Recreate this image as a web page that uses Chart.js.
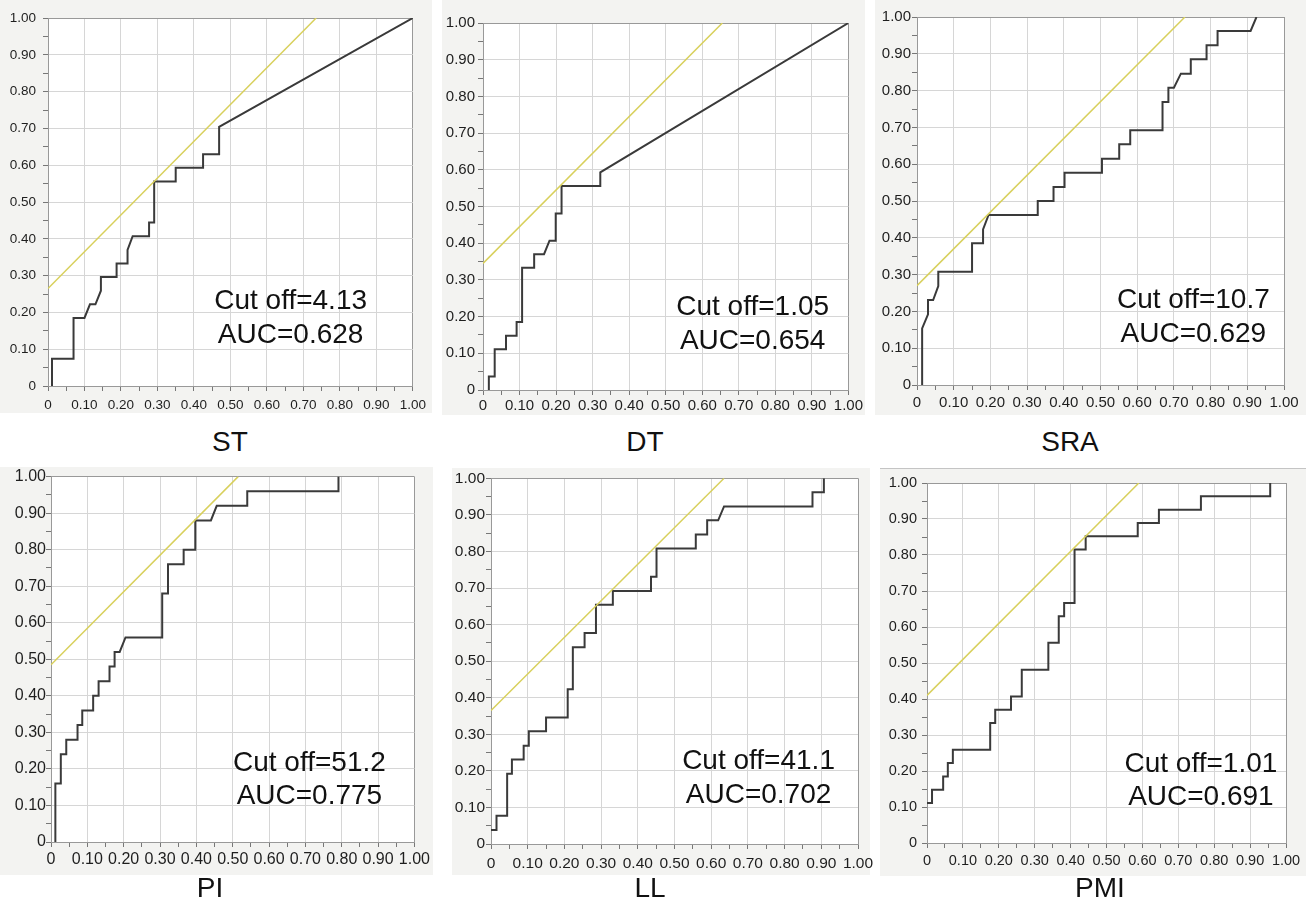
<!DOCTYPE html>
<html>
<head>
<meta charset="utf-8">
<script src="https://cdn.jsdelivr.net/npm/chart.js@4.4.1/dist/chart.umd.min.js"></script>
<style>
  html, body { margin: 0; padding: 0; background: #fff; }
  body { width: 1306px; height: 908px; position: relative; overflow: hidden;
         font-family: "Liberation Sans", Arial, sans-serif; }
  .bg { position: absolute; background: #f3f3f1; }
  .box { position: absolute; }
  .name { position: absolute; font-size: 28px; color: #111; transform: translate(-50%, -50%); white-space: nowrap; }
</style>
</head>
<body>
<script>
// ---- data ----
const tickLabels = ["0", "0.10", "0.20", "0.30", "0.40", "0.50", "0.60", "0.70", "0.80", "0.90", "1.00"];

const panelNames = ["ST", "DT", "SRA", "PI", "LL", "PMI"];
const cutOffs = ["4.13", "1.05", "10.7", "51.2", "41.1", "1.01"];
const aucs = ["0.628", "0.654", "0.629", "0.775", "0.702", "0.691"];

const stFpr = [0.011, 0.011, 0.07, 0.07, 0.10, 0.115, 0.13, 0.145, 0.145, 0.188, 0.188, 0.218, 0.218, 0.232, 0.277, 0.277, 0.291, 0.291, 0.35, 0.35, 0.425, 0.425, 0.469, 0.469, 1.0];
const stTpr = [0, 0.074, 0.074, 0.185, 0.185, 0.222, 0.222, 0.259, 0.296, 0.296, 0.333, 0.333, 0.37, 0.407, 0.407, 0.444, 0.444, 0.556, 0.556, 0.593, 0.593, 0.63, 0.63, 0.704, 1.0];
const stIsoX = [0, 0.735];
const stIsoY = [0.265, 1];

const dtFpr = [0.016, 0.016, 0.032, 0.032, 0.063, 0.063, 0.092, 0.092, 0.107, 0.107, 0.14, 0.14, 0.167, 0.182, 0.199, 0.199, 0.215, 0.215, 0.321, 0.321, 1.0];
const dtTpr = [0, 0.037, 0.037, 0.111, 0.111, 0.148, 0.148, 0.185, 0.185, 0.333, 0.333, 0.37, 0.37, 0.407, 0.407, 0.481, 0.481, 0.556, 0.556, 0.593, 1.0];
const dtIsoX = [0, 0.655];
const dtIsoY = [0.345, 1];

const sraFpr = [0.014, 0.014, 0.03, 0.03, 0.044, 0.058, 0.058, 0.15, 0.15, 0.18, 0.18, 0.195, 0.329, 0.329, 0.372, 0.372, 0.402, 0.402, 0.504, 0.504, 0.551, 0.551, 0.581, 0.581, 0.669, 0.669, 0.685, 0.685, 0.70, 0.719, 0.746, 0.746, 0.789, 0.789, 0.819, 0.819, 0.909, 0.925];
const sraTpr = [0, 0.154, 0.192, 0.231, 0.231, 0.269, 0.308, 0.308, 0.385, 0.385, 0.423, 0.462, 0.462, 0.5, 0.5, 0.538, 0.538, 0.577, 0.577, 0.615, 0.615, 0.654, 0.654, 0.692, 0.692, 0.769, 0.769, 0.808, 0.808, 0.846, 0.846, 0.885, 0.885, 0.923, 0.923, 0.962, 0.962, 1.0];
const sraIsoX = [0, 0.73];
const sraIsoY = [0.27, 1];

const piFpr = [0.012, 0.012, 0.027, 0.027, 0.042, 0.042, 0.073, 0.073, 0.086, 0.086, 0.116, 0.116, 0.131, 0.131, 0.161, 0.161, 0.175, 0.175, 0.189, 0.205, 0.306, 0.306, 0.322, 0.322, 0.365, 0.365, 0.397, 0.397, 0.44, 0.456, 0.54, 0.54, 0.791, 0.791];
const piTpr = [0, 0.16, 0.16, 0.24, 0.24, 0.28, 0.28, 0.32, 0.32, 0.36, 0.36, 0.40, 0.40, 0.44, 0.44, 0.48, 0.48, 0.52, 0.52, 0.56, 0.56, 0.68, 0.68, 0.76, 0.76, 0.80, 0.80, 0.88, 0.88, 0.92, 0.92, 0.96, 0.96, 1.0];
const piIsoX = [0, 0.515];
const piIsoY = [0.485, 1];

const llFpr = [0, 0.015, 0.015, 0.044, 0.044, 0.057, 0.057, 0.089, 0.089, 0.103, 0.103, 0.15, 0.15, 0.209, 0.209, 0.223, 0.223, 0.255, 0.255, 0.286, 0.286, 0.332, 0.332, 0.436, 0.436, 0.451, 0.451, 0.558, 0.558, 0.589, 0.589, 0.619, 0.635, 0.876, 0.876, 0.907, 0.907];
const llTpr = [0.038, 0.038, 0.077, 0.077, 0.192, 0.192, 0.231, 0.231, 0.269, 0.269, 0.308, 0.308, 0.346, 0.346, 0.423, 0.423, 0.538, 0.538, 0.577, 0.577, 0.654, 0.654, 0.692, 0.692, 0.731, 0.731, 0.808, 0.808, 0.846, 0.846, 0.885, 0.885, 0.923, 0.923, 0.962, 0.962, 1.0];
const llIsoX = [0, 0.635];
const llIsoY = [0.365, 1];

const pmiFpr = [0, 0.014, 0.014, 0.045, 0.045, 0.058, 0.058, 0.072, 0.072, 0.176, 0.176, 0.19, 0.19, 0.234, 0.234, 0.264, 0.264, 0.338, 0.338, 0.367, 0.367, 0.382, 0.382, 0.411, 0.411, 0.442, 0.442, 0.587, 0.587, 0.646, 0.646, 0.763, 0.763, 0.956, 0.956];
const pmiTpr = [0.111, 0.111, 0.148, 0.148, 0.185, 0.185, 0.222, 0.222, 0.259, 0.259, 0.333, 0.333, 0.37, 0.37, 0.407, 0.407, 0.481, 0.481, 0.556, 0.556, 0.63, 0.63, 0.667, 0.667, 0.815, 0.815, 0.852, 0.852, 0.889, 0.889, 0.926, 0.926, 0.963, 0.963, 1.0];
const pmiIsoX = [0, 0.59];
const pmiIsoY = [0.41, 1];

const curves = [
  [stFpr, stTpr, stIsoX, stIsoY],
  [dtFpr, dtTpr, dtIsoX, dtIsoY],
  [sraFpr, sraTpr, sraIsoX, sraIsoY],
  [piFpr, piTpr, piIsoX, piIsoY],
  [llFpr, llTpr, llIsoX, llIsoY],
  [pmiFpr, pmiTpr, pmiIsoX, pmiIsoY],
];

// ---- layout (page pixels) ----
// bg: grey panel; c: canvas box; yw: y axis width; xh: x axis height; pt/pr: padding
// fs: tick font size; yp/xp: tick label padding
// tx, ty1, ty2: annotation position in axis units; nx, ny: panel name centre
const layout = [
  { bg: [0, 0, 432, 413],   c: [0, 0, 432, 413],   yw: 48, xh: 27, pt: 18, pr: 17, fs: 13.5, yp: 7, xp: 6, tx: 0.665, ty1: 0.21,  ty2: 0.117, nx: 230,  ny: 442 },
  { bg: [442, 0, 423, 415], c: [442, 0, 423, 415], yw: 41, xh: 25, pt: 23, pr: 13, fs: 15,   yp: 3, xp: 2, tx: 0.738, ty1: 0.205, ty2: 0.111, nx: 645,  ny: 442 },
  { bg: [875, 0, 431, 415], c: [875, 0, 431, 415], yw: 42, xh: 30, pt: 17, pr: 22, fs: 15,   yp: 1, xp: 4, tx: 0.753, ty1: 0.209, ty2: 0.116, nx: 1070, ny: 442 },
  { bg: [0, 467, 433, 408], c: [0, 467, 433, 408], yw: 51, xh: 33, pt: 8,  pr: 15, fs: 16,   yp: 0, xp: 3, tx: 0.711, ty1: 0.194, ty2: 0.105, nx: 210,  ny: 888 },
  { bg: [452, 468, 418, 407], c: [452, 468, 430, 407], yw: 39, xh: 31, pt: 9, pr: 24, fs: 15.5, yp: 1, xp: 5, tx: 0.729, ty1: 0.204, ty2: 0.113, nx: 650, ny: 888 },
  { bg: [880, 468, 426, 407], c: [880, 468, 426, 407], yw: 47, xh: 32, pt: 15, pr: 20, fs: 14.5, yp: 5, xp: 4, tx: 0.763, ty1: 0.198, ty2: 0.105, nx: 1100, ny: 888 },
];

const FONT = '"Liberation Sans", Arial, sans-serif';

const decoPlugin = {
  id: "deco",
  beforeDraw(chart) {
    const a = chart.chartArea, ctx = chart.ctx;
    ctx.save();
    ctx.fillStyle = "#ffffff";
    ctx.fillRect(a.left, a.top, a.right - a.left, a.bottom - a.top);
    ctx.restore();
  },
  afterDatasetsDraw(chart, args, opts) {
    const ctx = chart.ctx, xs = chart.scales.x, ys = chart.scales.y;
    ctx.save();
    ctx.fillStyle = "#111";
    ctx.font = "28px " + FONT;
    ctx.textAlign = "center";
    ctx.textBaseline = "alphabetic";
    const px = xs.getPixelForValue(opts.tx);
    ctx.fillText("Cut off=" + opts.cut, px, ys.getPixelForValue(opts.ty1));
    ctx.fillText("AUC=" + opts.auc, px, ys.getPixelForValue(opts.ty2));
    ctx.restore();
  }
};

function isMajor(v) { return Math.round(v * 100) % 10 === 0; }

function axis(fit, fs, pad) {
  return {
    type: "linear", min: 0, max: 1,
    afterFit: fit,
    border: { color: "#999", width: 1 },
    grid: {
      color: c => {
        const k = Math.round(c.tick.value * 100);
        if (k % 10) return "rgba(0,0,0,0)";
        return (k === 0 || k === 100) ? "#999" : "#d6d6d6";
      },
      tickColor: "#777",
      tickLength: 5,
      lineWidth: 1
    },
    ticks: {
      stepSize: 0.05, autoSkip: false, maxRotation: 0, minRotation: 0, padding: pad,
      color: "#1e1e1e", font: { family: FONT, size: fs },
      callback: v => isMajor(v) ? tickLabels[Math.round(v * 10)] : ""
    }
  };
}

layout.forEach((L, i) => {
  const bg = document.createElement("div");
  bg.className = "bg";
  bg.style.left = L.bg[0] + "px"; bg.style.top = L.bg[1] + "px";
  bg.style.width = L.bg[2] + "px"; bg.style.height = L.bg[3] + "px";
  if (i === 5) bg.style.borderTop = "1px solid #c4c4c4";
  document.body.appendChild(bg);

  const box = document.createElement("div");
  box.className = "box";
  box.style.left = L.c[0] + "px"; box.style.top = L.c[1] + "px";
  box.style.width = L.c[2] + "px"; box.style.height = L.c[3] + "px";
  const canvas = document.createElement("canvas");
  canvas.width = L.c[2]; canvas.height = L.c[3];
  box.appendChild(canvas);
  document.body.appendChild(box);

  const name = document.createElement("div");
  name.className = "name";
  name.style.left = L.nx + "px"; name.style.top = L.ny + "px";
  name.textContent = panelNames[i];
  document.body.appendChild(name);

  const [fpr, tpr, isoX, isoY] = curves[i];

  new Chart(canvas, {
    type: "line",
    data: {
      datasets: [
        {
          data: isoX.map((x, j) => ({ x, y: isoY[j] })),
          borderColor: "#d8d05c", borderWidth: 1.5,
          pointRadius: 0, tension: 0, fill: false
        },
        {
          data: fpr.map((x, j) => ({ x, y: tpr[j] })),
          borderColor: "#3a3a3a", borderWidth: 2,
          pointRadius: 0, tension: 0, fill: false
        }
      ]
    },
    options: {
      responsive: false,
      animation: false,
      devicePixelRatio: 1,
      layout: { padding: { top: L.pt, right: L.pr, left: 0, bottom: 0 } },
      scales: {
        x: axis(s => { s.height = L.xh; }, L.fs, L.xp),
        y: axis(s => { s.width = L.yw; }, L.fs, L.yp)
      },
      plugins: {
        legend: { display: false },
        tooltip: { enabled: false },
        deco: { tx: L.tx, ty1: L.ty1, ty2: L.ty2, cut: cutOffs[i], auc: aucs[i] }
      }
    },
    plugins: [decoPlugin]
  });
});
</script>
</body>
</html>
